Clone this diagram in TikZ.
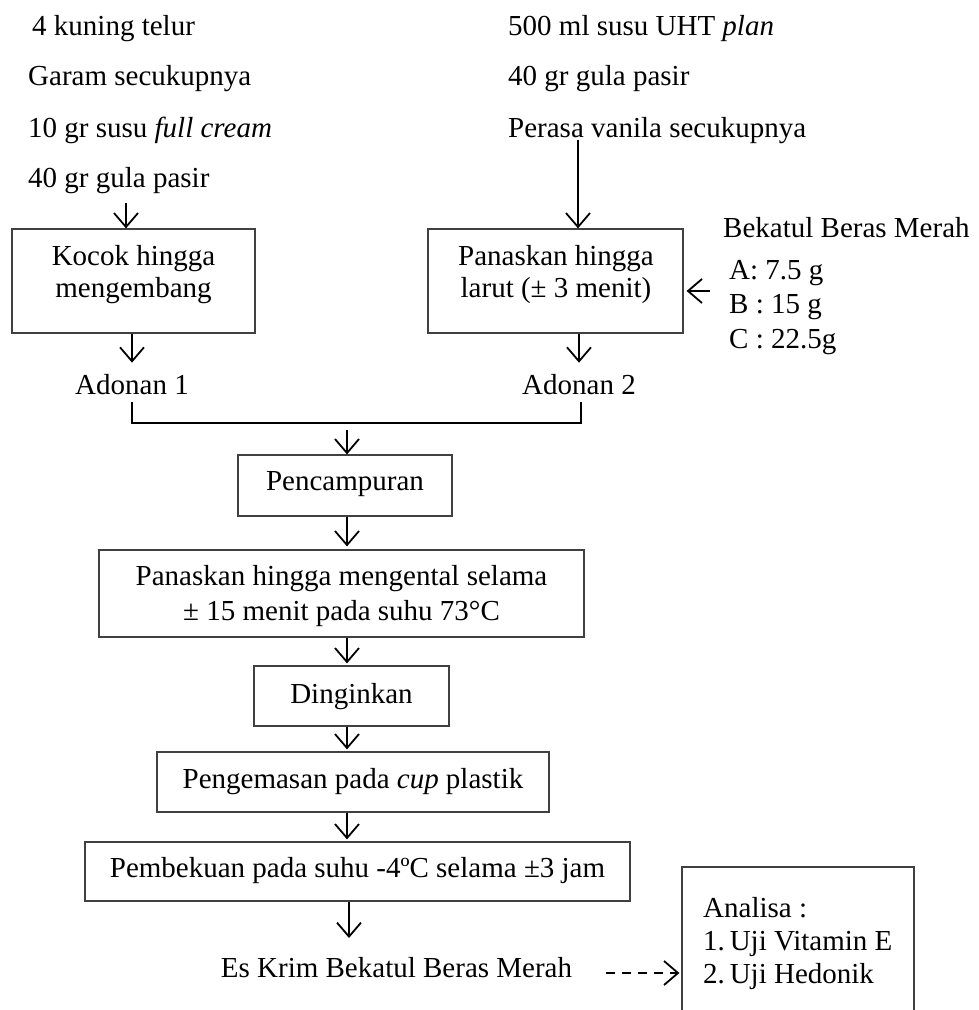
\documentclass[tikz,border=0pt]{standalone}
\usepackage{fontspec}
\setmainfont{Liberation Serif}
\usetikzlibrary{arrows.meta}
\newcommand\fsz{\fontsize{29}{32}\selectfont}
\tikzset{
  every node/.style={font=\fsz, inner sep=0pt},
  boxnode/.style={draw=black!75, line width=1.2pt, rectangle},
  tb/.style={anchor=base},
  tl/.style={anchor=base west},
  arr/.style={-{Straight Barb[length=14pt,width=24pt,line width=1.8pt]}, line width=1.8pt, black},
  joinline/.style={line width=1.8pt, black},
}
\begin{document}
\begin{tikzpicture}[x=1pt,y=-1pt]
\clip (0,0) rectangle (979,1010);
\fill[white] (0,0) rectangle (979,1010);

% left ingredients
\node[tl] (l1) at (32,35) {4 kuning telur};
\node[tl] (l2) at (28,85) {Garam secukupnya};
\node[tl] (l3) at (28,137) {10 gr susu \textit{full cream}};
\node[tl] (l4) at (28,187) {40 gr gula pasir};
% right ingredients
\node[tl] (r1) at (508,35) {500 ml susu UHT \textit{plan}};
\node[tl] (r2) at (508,85) {40 gr gula pasir};
\node[tl] (r3) at (508,137) {Perasa vanila secukupnya};

% box 1
\node[boxnode, minimum width=243pt, minimum height=104pt] (b1) at (133.5,281) {};
\node[tb] (b1a) at (133.5,265) {Kocok hingga};
\node[tb] (b1b) at (133.5,297) {mengembang};
% box 2
\node[boxnode, minimum width=255pt, minimum height=104pt] (b2) at (555.5,281) {};
\node[tb] (b2a) at (556,265) {Panaskan hingga};
\node[tb] (b2b) at (556,297) {larut (± 3 menit)};

% bekatul
\node[tl] (k0) at (723,237) {Bekatul Beras Merah};
\node[tl] (k1) at (729,279) {A: 7.5 g};
\node[tl] (k2) at (729,313) {B : 15 g};
\node[tl] (k3) at (729,348) {C : 22.5g};

% adonan
\node[tb] (a1) at (132,394) {Adonan 1};
\node[tb] (a2) at (579,394) {Adonan 2};

% arrows top
\coordinate (s1) at (126,203);
\draw[arr] (s1) -- (s1 |- b1.north);
\coordinate (s2) at (578,140);
\draw[arr] (s2) -- (s2 |- b2.north);
\coordinate (c3) at (710,291);
\draw[arr, shorten >=3pt] (c3) -- (c3 -| b2.east);
\draw[arr, shorten >=11pt] (a1 |- b1.south) -- (a1.north);
\draw[arr, shorten >=11pt] (a2 |- b2.south) -- (a2.north);

% junction
\coordinate (j1) at (132,402);
\coordinate (j2) at (581,402);
\coordinate (jm) at (347,423);
\draw[joinline] (j1) |- (jm) -| (j2);

% main column
\node[boxnode, minimum width=214pt, minimum height=61pt] (b3) at (345,485.5) {};
\node[tb] (b3a) at (345,490) {Pencampuran};
\node[boxnode, minimum width=485pt, minimum height=87pt] (b4) at (341.5,593.5) {};
\node[tb] (b4a) at (341.5,585) {Panaskan hingga mengental selama};
\node[tb] (b4b) at (341.5,620) {± 15 menit pada suhu 73°C};
\node[boxnode, minimum width=195pt, minimum height=60pt] (b5) at (351.5,696) {};
\node[tb] (b5a) at (351.5,703) {Dinginkan};
\node[boxnode, minimum width=392pt, minimum height=60pt] (b6) at (353,782) {};
\node[tb] (b6a) at (353,788) {Pengemasan pada \textit{cup} plastik};
\node[boxnode, minimum width=545pt, minimum height=59pt] (b7) at (357.5,871.5) {};
\node[tb] (b7a) at (357.5,877) {Pembekuan pada suhu -4ºC selama ±3 jam};
\node[tb] (es) at (396.5,977) {Es Krim Bekatul Beras Merah};

\draw[arr, shorten <=7pt] (jm) -- (jm |- b3.north);
\draw[arr, shorten >=3pt] (jm |- b3.south) -- (jm |- b4.north);
\draw[arr, shorten >=2pt] (jm |- b4.south) -- (jm |- b5.north);
\draw[arr, shorten >=2pt] (jm |- b5.south) -- (jm |- b6.north);
\draw[arr, shorten >=2pt] (jm |- b6.south) -- (jm |- b7.north);
\coordinate (e1) at (349,938);
\draw[arr] (e1 |- b7.south) -- (e1);

% analisa
\node[boxnode, minimum width=232pt, minimum height=160pt] (an) at (798,947) {};
\node[tl] (an0) at (703,917) {Analisa :};
\node[tl] (an1) at (703,950) {1.\,Uji Vitamin E};
\node[tl] (an2) at (703,983) {2.\,Uji Hedonik};
\coordinate (d1) at (606,973);
\draw[arr, dash pattern=on 9pt off 7pt, shorten >=2pt] (d1) -- (d1 -| an.west);
\end{tikzpicture}
\end{document}
